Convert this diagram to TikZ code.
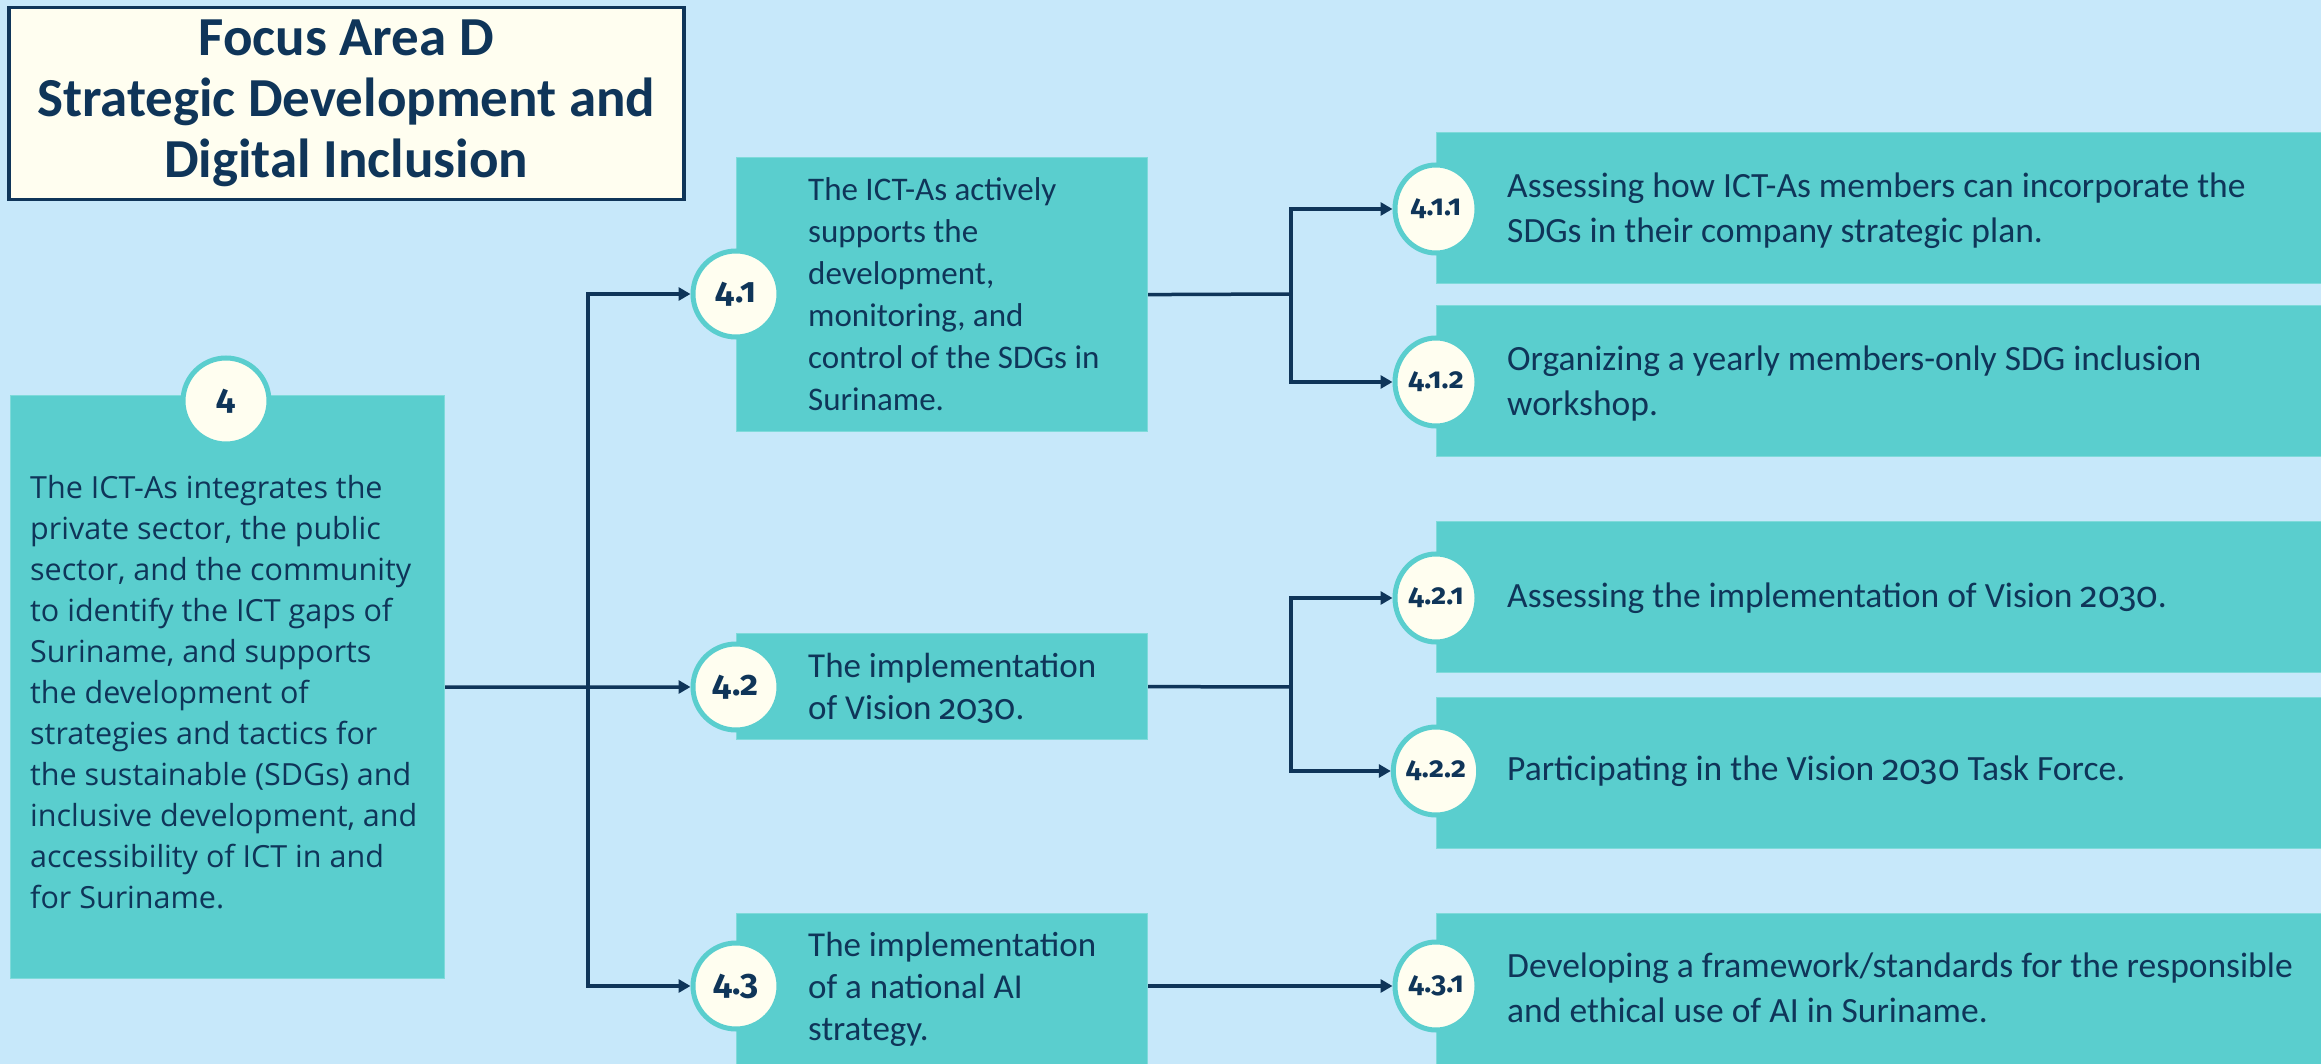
\documentclass[tikz,border=0pt]{standalone}
\usepackage{fontspec}
\setmainfont{Carlito}
\newfontfamily\wideFont{Open Sans}
\newfontfamily\numFont{Fira Sans}[Numbers=OldStyle]
\usetikzlibrary{arrows.meta,shapes.geometric}
\definecolor{bgc}{HTML}{C7E8FA}
\definecolor{tealc}{HTML}{5ACECE}
\definecolor{navyc}{HTML}{0F3559}
\definecolor{creamc}{HTML}{FFFEF0}
\definecolor{edgec}{HTML}{7FDADA}
\newcommand{\yr}{{\numFont 2030}}
\begin{document}
\begin{tikzpicture}[x=1pt,y=-1pt,
  box/.style={fill=tealc,draw=edgec,line width=1.2pt,inner sep=0pt,anchor=north west},
  num/.style={circle,fill=creamc,draw=tealc,line width=5pt,minimum size=86,inner sep=0pt,text=navyc,font=\numFont\bfseries\fontsize{35}{36}\selectfont},
  numsm/.style={ellipse,fill=creamc,draw=tealc,line width=5pt,minimum width=82,minimum height=88,inner sep=0pt,text=navyc,font=\numFont\bfseries\fontsize{29}{30}\selectfont},
  txt/.style={text=navyc,align=left,inner sep=0pt,anchor=west,font=\fontsize{33}{42}\selectfont},
  txtm/.style={text=navyc,align=left,inner sep=0pt,anchor=west,font=\fontsize{35}{42}\selectfont},
  txtr/.style={text=navyc,align=left,inner sep=0pt,anchor=west,font=\fontsize{35.5}{45}\selectfont},
  txtw/.style={text=navyc,align=left,inner sep=0pt,anchor=west,font=\wideFont\fontsize{30.5}{41}\selectfont},
  link/.style={draw=navyc,line width=3.5pt},
  arr/.style={link,-{Triangle[length=12pt,width=13pt]}},
  titlebox/.style={fill=creamc,draw=navyc,line width=3.5pt,inner sep=0pt,anchor=north west,align=center,text=navyc,font=\bfseries\fontsize{55}{61}\selectfont}
]
\useasboundingbox (0,0) rectangle (2321,1064);
\clip (0,0) rectangle (2321,1064);
\fill[bgc] (0,0) rectangle (2321,1064);

% title
\node[titlebox,minimum width=675,minimum height=192] (title) at (7,6) {Focus Area D\\Strategic Development and\\Digital Inclusion};

% level 1
\node[box,minimum width=434,minimum height=583] (b4) at (10,395) {};
\node[num] (c4) at (226,401) {4};
\node[txtw] (t4) at (30,692) {The ICT-As integrates the\\private sector, the public\\sector, and the community\\to identify the ICT gaps of\\Suriname, and supports\\the development of\\strategies and tactics for\\the sustainable (SDGs) and\\inclusive development, and\\accessibility of ICT in and\\for Suriname.};

% level 2
\node[box,minimum width=411,minimum height=274] (b41) at (736,157) {};
\node[box,minimum width=411,minimum height=106] (b42) at (736,633) {};
\node[box,minimum width=411,minimum height=160] (b43) at (736,913) {};
\node[num] (c41) at (736,294) {4.1};
\node[num] (c42) at (736,687) {4.2};
\node[num] (c43) at (736,986) {4.3};
\node[txt] (t41) at (808,294) {The ICT-As actively\\supports the\\development,\\monitoring, and\\control of the SDGs in\\Suriname.};
\node[txtm] (t42) at (808,688) {The implementation\\of Vision \yr.};
\node[txtm] (t43) at (808,989) {The implementation\\of a national AI\\strategy.};

% level 3
\node[box,minimum width=890,minimum height=151] (b411) at (1436,132) {};
\node[box,minimum width=890,minimum height=151] (b412) at (1436,305) {};
\node[box,minimum width=890,minimum height=151] (b421) at (1436,521) {};
\node[box,minimum width=890,minimum height=151] (b422) at (1436,697) {};
\node[box,minimum width=890,minimum height=160] (b431) at (1436,913) {};
\node[numsm] (c411) at (1436,209) {4.1.1};
\node[numsm] (c412) at (1436,382) {4.1.2};
\node[numsm] (c421) at (1436,598) {4.2.1};
\node[numsm] (c422) at (1436,771) {4.2.2};
\node[numsm] (c431) at (1436,986) {4.3.1};
\node[txtr] (t411) at (1507,211) {Assessing how ICT-As members can incorporate the\\SDGs in their company strategic plan.};
\node[txtr] (t412) at (1507,384) {Organizing a yearly members-only SDG inclusion\\workshop.};
\node[txtr] (t421) at (1507,598) {Assessing the implementation of Vision \yr.};
\node[txtr] (t422) at (1507,771) {Participating in the Vision \yr\ Task Force.};
\node[txtr] (t431) at (1507,988) {Developing a framework/standards for the responsible\\and ethical use of AI in Suriname.};

% connectors
\coordinate (j1) at (588,687);
\coordinate (j2) at (1291,294);
\coordinate (j3) at (1291,687);
\draw[arr] (b4.east) -- (c42.west);
\draw[arr] (j1) |- (c41.west);
\draw[arr] (j1) |- (c43.west);
\draw[link] (b41.east) -- (j2);
\draw[arr] (j2) |- (c411.west);
\draw[arr] (j2) |- (c412.west);
\draw[link] (b42.east) -- (j3);
\draw[arr] (j3) |- (c421.west);
\draw[arr] (j3) |- (c422.west);
\draw[arr] (c43 -| b43.east) -- (c431.west);
\end{tikzpicture}
\end{document}
